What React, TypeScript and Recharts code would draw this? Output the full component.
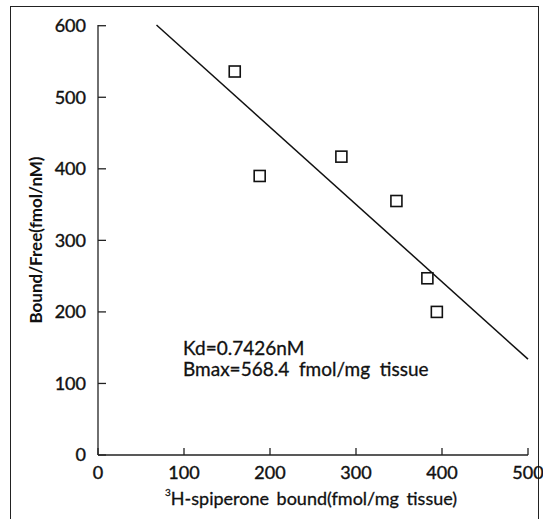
import { ScatterChart, Scatter, XAxis, YAxis, Label } from 'recharts'

// Scatchard plot values
const boundValues = [159, 188, 283, 347, 383, 394]
const ratioValues = [536, 390, 417, 355, 247, 200]
const fitX = [68, 500]
const fitY = [601, 134]
const xTicks = [0, 100, 200, 300, 400, 500]
const yTicks = [0, 100, 200, 300, 400, 500, 600]

const points = boundValues.map((x, i) => ({ x, y: ratioValues[i] }))
const fitLine = fitX.map((x, i) => ({ x, y: fitY[i] }))

const font = 'Lato, "Open Sans", sans-serif'
const tickStyle = { fontSize: 18, fill: '#111', stroke: '#111', strokeWidth: 0.4, fontFamily: font }

const OpenSquare = (props: any) => {
  const { cx, cy } = props
  if (cx == null || cy == null) return null
  const s = 11
  return <rect x={cx - s / 2} y={cy - s / 2} width={s} height={s} fill="#fff" stroke="#111" strokeWidth={1.6} />
}

export default function App() {
  return (
    <div style={{ position: 'absolute', left: 0, top: 0, width: 543, height: 519, background: '#fff', overflow: 'hidden' }}>
      <div
        style={{
          position: 'absolute',
          left: 10,
          top: 6,
          width: 527,
          height: 530,
          border: '1.5px solid #222',
        }}
      />
      <div style={{ position: 'absolute', left: 0, top: 0 }}>
        <ScatterChart width={543} height={519} margin={{ top: 25, right: 15, bottom: 0, left: 0 }}>
          <XAxis
            type="number"
            dataKey="x"
            domain={[0, 500]}
            ticks={xTicks}
            interval={0}
            height={64}
            stroke="#222"
            strokeWidth={1.3}
            tickSize={-7}
            tickMargin={18}
            tick={tickStyle}
          >
            <Label
              content={({ viewBox }: any) => (
                <text
                  x={viewBox.x + 67}
                  y={viewBox.y + 43}
                  textAnchor="start"
                  dominantBaseline="central"
                  fontSize={18}
                  fontFamily={font}
                  fill="#111"
                  stroke="#111"
                  strokeWidth={0.3}
                  wordSpacing={3}
                >
                  <tspan fontSize={10} dy={-6}>3</tspan>
                  <tspan dy={6}>H-spiperone bound(fmol/mg tissue)</tspan>
                </text>
              )}
            />
          </XAxis>
          <YAxis
            type="number"
            dataKey="y"
            domain={[0, 600]}
            ticks={yTicks}
            interval={0}
            width={98}
            stroke="#222"
            strokeWidth={1.3}
            tickSize={-8}
            tickMargin={20}
            tick={tickStyle}
          >
            <Label
              content={({ viewBox }: any) => {
                const cx = viewBox.x + 35
                const cy = viewBox.y + viewBox.height / 2
                return (
                  <text
                    x={cx}
                    y={cy}
                    transform={`rotate(-90 ${cx} ${cy})`}
                    textAnchor="middle"
                    dominantBaseline="central"
                    fontSize={17}
                    fontWeight={700}
                    fontFamily={font}
                    fill="#111"
                  >
                    Bound/Free(fmol/nM)
                  </text>
                )
              }}
            />
          </YAxis>
          <Scatter
            data={fitLine}
            line={{ stroke: '#111', strokeWidth: 1.5 }}
            shape={() => null}
            isAnimationActive={false}
          />
          <Scatter data={points} shape={OpenSquare} isAnimationActive={false} />
        </ScatterChart>
      </div>
      <div
        style={{
          position: 'absolute',
          left: 183,
          top: 337,
          fontFamily: font,
          fontSize: 19,
          lineHeight: '21px',
          color: '#111',
          WebkitTextStroke: '0.3px #111',
          whiteSpace: 'pre',
        }}
      >
        {'Kd=0.7426nM\nBmax=568.4  fmol/mg  tissue'}
      </div>
    </div>
  )
}
